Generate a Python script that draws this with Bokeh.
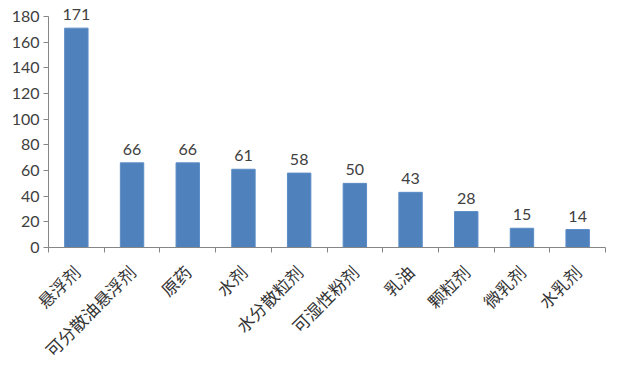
import math
from bokeh.plotting import figure
from bokeh.models import ColumnDataSource, FixedTicker, Range1d, LabelSet
from bokeh.core.properties import value
from bokeh.embed import file_html
from bokeh.resources import INLINE

categories = ["悬浮剂", "可分散油悬浮剂", "原药", "水剂", "水分散粒剂", "可湿性粉剂", "乳油", "颗粒剂", "微乳剂", "水乳剂"]
values = [171, 66, 66, 61, 58, 50, 43, 28, 15, 14]
y_ticks = [0, 20, 40, 60, 80, 100, 120, 140, 160, 180]

xs = list(range(1, len(categories) + 1))
src = ColumnDataSource(dict(x=xs, top=values, label=[str(v) for v in values]))

p = figure(frame_width=557, frame_height=245, output_backend="svg", toolbar_location=None,
           x_range=Range1d(0.5, len(categories) + 0.5), y_range=Range1d(0, 191))
p.min_border_left = 48
p.min_border_right = 12
p.min_border_top = 2
p.min_border_bottom = 118
p.outline_line_color = None
p.grid.visible = False

p.vbar(x="x", top="top", width=0.42, source=src, fill_color="#4F81BD", line_color="#5B8CC6", line_width=1)

labels = LabelSet(x="x", y="top", text="label", source=src, text_align="center", text_baseline="bottom",
                  y_offset=8, text_font=value("Lato"), text_font_size="16px", text_color="#404040")
p.add_layout(labels)

ya = p.yaxis[0]
ya.ticker = FixedTicker(ticks=y_ticks)
ya.bounds = (0, 180)
ya.axis_line_color = "#868686"
ya.major_tick_line_color = "#868686"
ya.major_tick_out = 5
ya.major_tick_in = 0
ya.minor_tick_line_color = None
ya.major_label_text_font = "Lato"
ya.major_label_text_font_size = "16px"
ya.major_label_text_color = "#404040"
ya.major_label_standoff = 4

xa = p.xaxis[0]
xa.ticker = FixedTicker(ticks=xs, minor_ticks=[i + 0.5 for i in range(0, len(categories) + 1)])
xa.major_label_overrides = {x: c for x, c in zip(xs, categories)}
xa.axis_line_color = "#868686"
xa.major_tick_line_color = None
xa.major_tick_out = 0
xa.major_tick_in = 0
xa.minor_tick_line_color = "#868686"
xa.minor_tick_out = 5
xa.minor_tick_in = 0
xa.major_label_orientation = math.pi / 4
xa.major_label_text_font = "Noto Sans CJK SC"
xa.major_label_text_font_size = "17px"
xa.major_label_text_color = "#333333"
xa.major_label_standoff = 16

open("out.html", "w").write(file_html(p, INLINE))
